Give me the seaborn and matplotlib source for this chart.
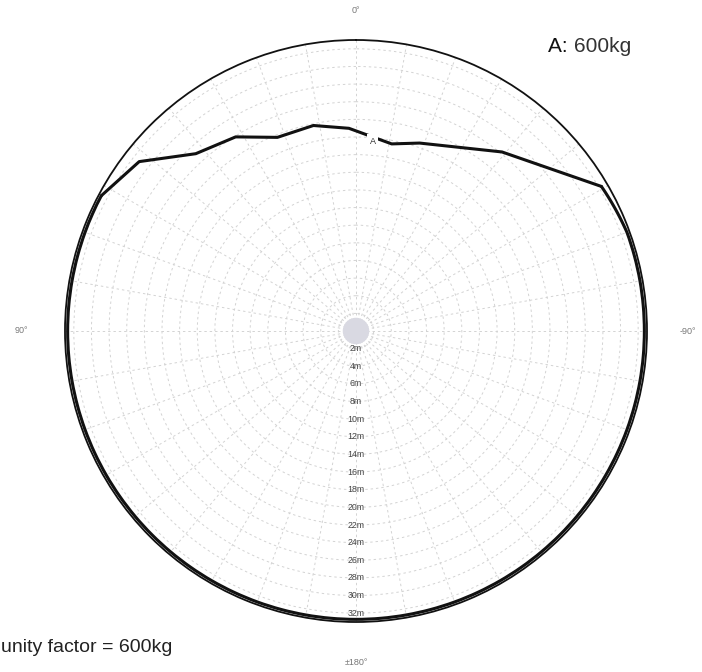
import numpy as np
import pandas as pd
import matplotlib
matplotlib.use("Agg")
import matplotlib.pyplot as plt
import seaborn as sns

# Load curve A (600 kg): working radius in metres at each slew angle (degrees,
# 0 = front, positive = counter-clockwise), traced once around the machine.
# Front sector: straight chords between the listed points.
front_angle_deg = [-59.5, -39.2, -18.7, -10.8, 2.0, 11.7, 22.1, 31.8, 42.1, 52.0, 62.0]
front_radius_m = [32.3, 26.2, 22.5, 21.6, 23.0, 23.8, 23.7, 25.9, 27.1, 31.2, 32.7]
# Rear sector: constant-reach arc around the back of the machine.
rear_angle_deg = [62, 70, 80, 90, 100, 110, 120, 130, 140, 150, 160, 170, 180,
                  190, 200, 210, 220, 230, 240, 250, 260, 270, 280, 290, 300.5]
rear_radius_m = [32.7, 32.7, 32.7, 32.7, 32.7, 32.7, 32.7, 32.7, 32.7, 32.7, 32.7, 32.7, 32.7,
                 32.7, 32.7, 32.7, 32.7, 32.7, 32.7, 32.7, 32.7, 32.7, 32.7, 32.7, 32.3]

radial_ticks = [2, 4, 6, 8, 10, 12, 14, 16, 18, 20, 22, 24, 26, 28, 30, 32]
radial_labels = [f"{r}m" for r in radial_ticks]
angle_label_pos = [0, 90, 180, 270]
angle_label_txt = ["0°", "90°", "±180°", "-90°"]
angle_label_r = [36.4, 38.0, 37.6, 37.6]

curve_name = "A"
curve_load = "600kg"
r_max = 33.0

front = pd.DataFrame({"theta": np.deg2rad(front_angle_deg), "r": front_radius_m})
rear = pd.DataFrame({"theta": np.deg2rad(rear_angle_deg), "r": rear_radius_m})

sns.set_style("white")
plt.rcParams["font.family"] = ["Liberation Sans", "DejaVu Sans"]

W, H = 702, 672
fig = plt.figure(figsize=(W / 100, H / 100), dpi=100)
cx, cy, R = 356, 331, 291
ax = fig.add_axes([(cx - R) / W, (H - cy - R) / H, 2 * R / W, 2 * R / H],
                  projection="polar")
ax.set_theta_zero_location("N")
ax.set_theta_direction(1)
ax.set_rlim(0, r_max)

# grid: rings every 2 m, spokes every 10 degrees
ax.set_rticks(radial_ticks)
ax.set_yticklabels([])
ax.set_thetagrids(np.arange(0, 360, 10), labels=[""] * 36)
ax.grid(True, color="#d3d3d3", linestyle=(0, (2.5, 3)), linewidth=0.7)
ax.spines["polar"].set_color("#111111")
ax.spines["polar"].set_linewidth(1.3)

# shaded hub at the slew centre
ax.bar(0, 1.5, width=2 * np.pi, bottom=0, color="#d9d9e2", edgecolor="none",
       zorder=1)

# rear arc follows the circle between vertices
sns.lineplot(data=rear, x="theta", y="r", sort=False, estimator=None,
             color="#111111", linewidth=2.2, ax=ax, zorder=3)
ax.lines[-1].get_path()._interpolation_steps = 60

# front sector drawn as straight chords
sns.lineplot(data=front, x="theta", y="r", sort=False, estimator=None,
             color="#111111", linewidth=2.2, ax=ax, zorder=3)
ax.lines[-1].get_path()._interpolation_steps = 1
ax.set_xlabel("")
ax.set_ylabel("")

# curve tag sitting in a break of the line
ax.text(np.deg2rad(-5.0), 21.6, curve_name, fontsize=6.5, color="#333333",
        ha="center", va="center", zorder=4,
        bbox=dict(boxstyle="square,pad=0.25", fc="white", ec="none"))

# radius labels down the rear spoke
for r, lab in zip(radial_ticks, radial_labels):
    ax.text(np.pi, r, lab, fontsize=6.3, color="#444444", ha="center",
            va="center", zorder=4)

# slew angle labels outside the rim
for a, lab, rr in zip(angle_label_pos, angle_label_txt, angle_label_r):
    ax.text(np.deg2rad(a), rr, lab, fontsize=6.5, color="#777777",
            ha="center", va="center", clip_on=False)

fig.text(548 / W, 1 - 46 / H, f"{curve_name}: ", fontsize=15, color="#111111",
         ha="left", va="center")
fig.text(574 / W, 1 - 46 / H, curve_load, fontsize=15, color="#333333",
         ha="left", va="center")
fig.text(1 / W, 1 - 648 / H, f"unity factor = {curve_load}", fontsize=14,
         color="#222222", ha="left", va="center")

fig.savefig("out.png", dpi=100, facecolor="white")
